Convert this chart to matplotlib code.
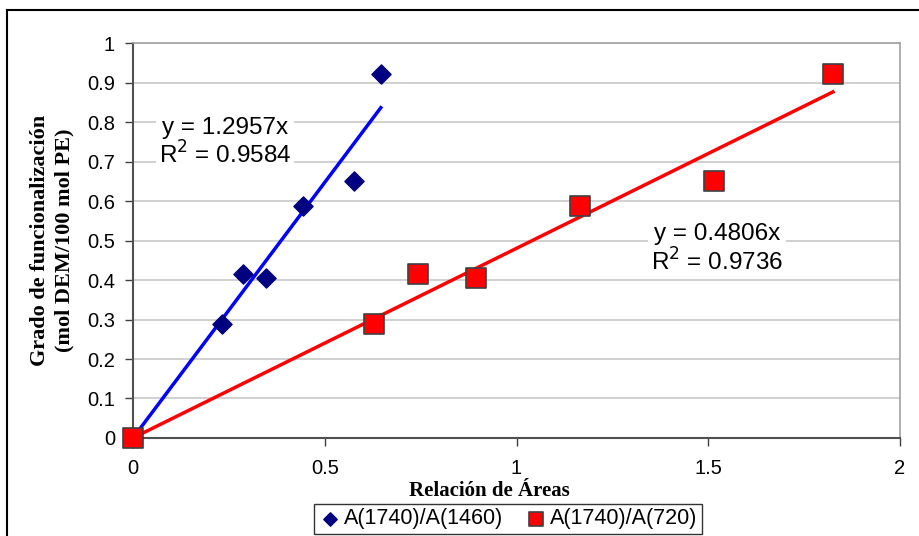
import numpy as np
import matplotlib.pyplot as plt
from matplotlib.lines import Line2D

# data
x_1460 = [0, 0.231, 0.288, 0.347, 0.442, 0.577, 0.646]
x_720 = [0, 0.628, 0.743, 0.894, 1.166, 1.515, 1.825]
grado = [0, 0.288, 0.416, 0.405, 0.588, 0.650, 0.922]
slope_1460 = 1.2957
slope_720 = 0.4806
labels = ["A(1740)/A(1460)", "A(1740)/A(720)"]
eq_1460 = "y = 1.2957x\nR$^2$ = 0.9584"
eq_720 = "y = 0.4806x\nR$^2$ = 0.9736"

sans = "Liberation Sans"
serif = "Liberation Serif"

fig = plt.figure(figsize=(9.2, 5.36), dpi=100)
ax = fig.add_axes([0.1446, 0.183, 0.8337, 0.736])

ax.set_xlim(0, 2)
ax.set_ylim(0, 1)
ax.set_xticks([0, 0.5, 1, 1.5, 2])
ax.set_xticklabels(["0", "0.5", "1", "1.5", "2"])
ax.set_yticks(np.arange(0, 1.01, 0.1))
ax.set_yticklabels(["0", "0.1", "0.2", "0.3", "0.4", "0.5", "0.6", "0.7", "0.8", "0.9", "1"])
ax.yaxis.grid(True, color="#c8c8c8", linewidth=1.2)
ax.set_axisbelow(True)

for s in ["top", "right"]:
    ax.spines[s].set_color("#a0a0a0")
    ax.spines[s].set_linewidth(1.2)
for s in ["left", "bottom"]:
    ax.spines[s].set_color("#505050")
    ax.spines[s].set_linewidth(1.5)

ax.tick_params(axis="both", direction="out", length=6, width=1, color="#404040",
               labelsize=14.5)
ax.tick_params(axis="x", pad=9)
ax.tick_params(axis="y", pad=7)
for lab in ax.get_xticklabels() + ax.get_yticklabels():
    lab.set_fontfamily(sans)

# trendlines through origin, up to the last point
xx = np.array([0, max(x_1460)])
ax.plot(xx, slope_1460 * xx, color="#0000ff", linewidth=2.5, zorder=3)
xx = np.array([0, max(x_720)])
ax.plot(xx, slope_720 * xx, color="#ff0000", linewidth=2.5, zorder=3)

ax.scatter(x_1460, grado, marker="D", s=95, color="#000080", zorder=4,
           label=labels[0], clip_on=False)
ax.scatter(x_720, grado, marker="s", s=190, color="#ff0000", edgecolor="#404040",
           linewidth=1.2, zorder=4, label=labels[1], clip_on=False)

box = dict(facecolor="white", edgecolor="none", pad=2)
ax.text(0.24, 0.748, eq_1460, fontsize=17.5, family=sans, ha="center", va="center",
        linespacing=1.15, bbox=box, zorder=5)
ax.text(1.523, 0.478, eq_720, fontsize=17.5, family=sans, ha="center", va="center",
        linespacing=1.15, bbox=box, zorder=5)

ax.set_xlabel("Relación de Áreas", fontsize=15, fontweight="bold", family=serif,
              labelpad=0)
ax.xaxis.set_label_coords(0.464, -0.108)
ax.set_ylabel("Grado de funcionalización\n(mol DEM/100 mol PE)", fontsize=16,
              fontweight="bold", family=serif, labelpad=9, linespacing=1.3)

leg = fig.legend(loc="center", bbox_to_anchor=(0.552, 0.032), ncol=2,
                 prop={"family": sans, "size": 15.5}, frameon=True, fancybox=False,
                 handletextpad=0.1, columnspacing=1.0, borderpad=0.2,
                 handlelength=1.1, markerscale=0.7)
leg.get_frame().set_edgecolor("#000000")
leg.get_frame().set_linewidth(1.0)

# outer chart border (only left and top edges visible)
fig.add_artist(Line2D([0.0076, 0.0076], [0, 0.982], color="black", linewidth=1.5,
                      transform=fig.transFigure))
fig.add_artist(Line2D([0.0076, 1], [0.982, 0.982], color="black", linewidth=1.5,
                      transform=fig.transFigure))

fig.savefig("out.png", dpi=100)
